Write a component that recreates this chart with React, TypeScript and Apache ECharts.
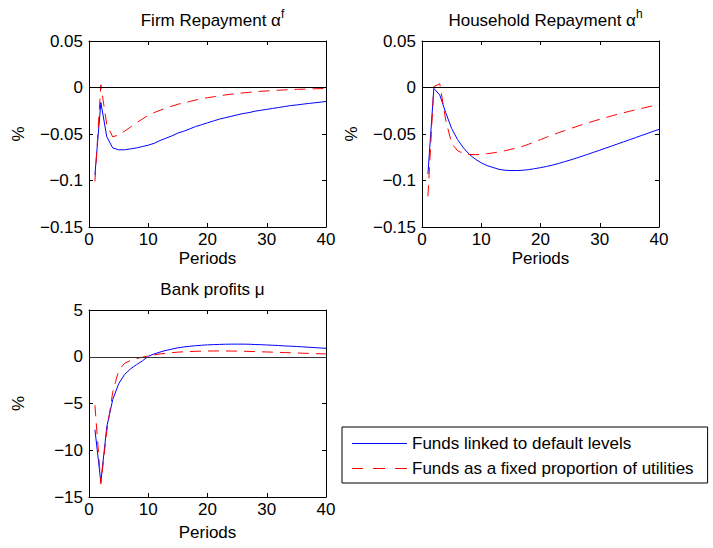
import React, { useEffect, useRef } from "react";
import * as echarts from "echarts";

// ---- data (periods 1..40) ----
const periods = [1, 2, 3, 4, 5, 6, 7, 8, 9, 10, 11, 12, 13, 14, 15, 16, 17, 18, 19, 20,
  21, 22, 23, 24, 25, 26, 27, 28, 29, 30, 31, 32, 33, 34, 35, 36, 37, 38, 39, 40];

const firmLinked = [-0.094, -0.016, -0.053, -0.065, -0.067, -0.067, -0.066, -0.065, -0.0635, -0.062,
  -0.06, -0.057, -0.0545, -0.052, -0.049, -0.047, -0.0445, -0.042, -0.04, -0.038,
  -0.036, -0.034, -0.0325, -0.031, -0.0295, -0.028, -0.027, -0.0255, -0.0245, -0.0235,
  -0.0225, -0.0215, -0.0205, -0.0195, -0.0188, -0.018, -0.0172, -0.0165, -0.0158, -0.015];
const firmFixed = [-0.101, 0.003, -0.04, -0.053, -0.051, -0.047, -0.0425, -0.038, -0.034, -0.03,
  -0.027, -0.0245, -0.022, -0.02, -0.018, -0.0165, -0.015, -0.0135, -0.012, -0.011,
  -0.01, -0.009, -0.008, -0.0072, -0.0065, -0.0058, -0.0052, -0.0046, -0.0041, -0.0037,
  -0.0033, -0.0029, -0.0026, -0.0023, -0.002, -0.0018, -0.0016, -0.0014, -0.0012, -0.001];

const householdLinked = [-0.093, -0.001, -0.008, -0.027, -0.044, -0.056, -0.065, -0.072, -0.077, -0.081,
  -0.084, -0.086, -0.088, -0.089, -0.0893, -0.0893, -0.089, -0.0883, -0.0873, -0.0862,
  -0.0849, -0.0835, -0.0818, -0.0799, -0.078, -0.076, -0.0739, -0.0718, -0.0696, -0.0674,
  -0.0652, -0.063, -0.0607, -0.0585, -0.0562, -0.054, -0.0517, -0.0495, -0.0472, -0.045];
const householdFixed = [-0.117, 0.001, 0.004, -0.035, -0.06, -0.068, -0.071, -0.072, -0.0722, -0.0718,
  -0.0712, -0.0703, -0.0692, -0.068, -0.0665, -0.065, -0.0632, -0.061, -0.0585, -0.056,
  -0.0535, -0.051, -0.0487, -0.0465, -0.0443, -0.0422, -0.04, -0.038, -0.0361, -0.0342,
  -0.0323, -0.0305, -0.0288, -0.0272, -0.0256, -0.0241, -0.0226, -0.0211, -0.0196, -0.018];

const bankLinked = [-7.8, -13.4, -7.5, -4.6, -2.9, -1.9, -1.3, -0.85, -0.45, 0.05,
  0.3, 0.5, 0.68, 0.82, 0.95, 1.05, 1.12, 1.18, 1.23, 1.27,
  1.3, 1.32, 1.34, 1.35, 1.35, 1.35, 1.34, 1.31, 1.29, 1.26,
  1.23, 1.2, 1.16, 1.13, 1.1, 1.06, 1.02, 0.98, 0.94, 0.9];
const bankFixed = [-5.2, -13.6, -8.0, -3.8, -1.5, -0.7, -0.4, -0.2, -0.05, 0.1,
  0.2, 0.3, 0.37, 0.44, 0.49, 0.53, 0.56, 0.58, 0.6, 0.61,
  0.62, 0.62, 0.62, 0.61, 0.6, 0.59, 0.57, 0.55, 0.53, 0.51,
  0.49, 0.47, 0.45, 0.43, 0.41, 0.38, 0.36, 0.34, 0.32, 0.3];

const xTicks = { min: 0, max: 40, interval: 10 };
const repayTicks = { min: -0.15, max: 0.05, interval: 0.05 };
const bankTicks = { min: -15, max: 5, interval: 5 };

const NAME_LINKED = "Funds linked to default levels";
const NAME_FIXED = "Funds as a fixed proportion of utilities";

const panels = [
  { title: "Firm Repayment α", sup: "f", linked: firmLinked, fixed: firmFixed, y: repayTicks },
  { title: "Household Repayment α", sup: "h", linked: householdLinked, fixed: householdFixed, y: repayTicks },
  { title: "Bank profits μ", sup: "", linked: bankLinked, fixed: bankFixed, y: bankTicks },
];

const FONT = "'Liberation Sans', Arial, Helvetica, sans-serif";
const FS = 17;
const BLUE = "#0000ff";
const RED = "#ff0000";
const DASH = [11, 7];
const ICON_SOLID = "path://M0,0h55v1h-55z";
const ICON_DASHED = "path://M0,0h11v1h-11zM21,0h12v1h-12zM43,0h12v1h-12z";

const fmt = (v: number) => {
  const r = Math.round(v * 1000) / 1000;
  return String(r).replace("-", "\u2212");
};

export default function App() {
  const ref = useRef<HTMLDivElement>(null);
  useEffect(() => {
    if (!ref.current) return;
    const chart = echarts.init(ref.current, undefined, { renderer: "svg" });
    const grids = [
      { left: 89, top: 41, width: 237, height: 186 },
      { left: 422, top: 41, width: 237, height: 186 },
      { left: 89, top: 310, width: 237, height: 187 },
    ];
    const nameGaps = [23, 23, 27];
    const xAxis: any[] = [];
    const yAxis: any[] = [];
    const series: any[] = [];
    const title: any[] = [];
    const lineAxis = { show: true, lineStyle: { color: "#000", width: 1 } };
    panels.forEach((p, g) => {
      xAxis.push({
        type: "value", gridIndex: g, position: "bottom", ...xTicks,
        axisLine: { ...lineAxis, onZero: false },
        axisTick: { show: true, inside: true, length: 4, lineStyle: { color: "#000" } },
        axisLabel: { color: "#000", fontSize: FS, fontFamily: FONT, margin: 4 },
        splitLine: { show: false },
        name: "Periods", nameLocation: "middle", nameGap: nameGaps[g],
        nameTextStyle: { color: "#000", fontSize: FS, fontFamily: FONT },
      });
      xAxis.push({
        type: "value", gridIndex: g, position: "top", ...xTicks,
        axisLine: { ...lineAxis, onZero: false },
        axisTick: { show: true, inside: true, length: 4, lineStyle: { color: "#000" } },
        axisLabel: { show: false },
        splitLine: { show: false },
      });
      yAxis.push({
        type: "value", gridIndex: g, position: "left", ...p.y,
        axisLine: { ...lineAxis, onZero: false },
        axisTick: { show: true, inside: true, length: 4, lineStyle: { color: "#000" } },
        axisLabel: { color: "#000", fontSize: FS, fontFamily: FONT, margin: 6, formatter: fmt },
        splitLine: { show: false },
        name: "%", nameLocation: "middle", nameGap: 62, nameRotate: 90,
        nameTextStyle: { color: "#000", fontSize: FS, fontFamily: FONT },
      });
      yAxis.push({
        type: "value", gridIndex: g, position: "right", ...p.y,
        axisLine: { ...lineAxis, onZero: false },
        axisTick: { show: true, inside: true, length: 4, lineStyle: { color: "#000" } },
        axisLabel: { show: false },
        splitLine: { show: false },
      });
      series.push({
        type: "line", name: NAME_LINKED, xAxisIndex: 2 * g, yAxisIndex: 2 * g,
        data: periods.map((t, i) => [t, p.linked[i]]),
        symbol: "none", smooth: false,
        lineStyle: { color: BLUE, width: 1 }, itemStyle: { color: BLUE },
        markLine: {
          silent: true, symbol: "none", label: { show: false },
          lineStyle: { color: g === 2 ? "#333" : "#000", width: 1, type: "solid" },
          data: [{ yAxis: 0 }],
        },
        z: 3,
      });
      series.push({
        type: "line", name: NAME_FIXED, xAxisIndex: 2 * g, yAxisIndex: 2 * g,
        data: periods.map((t, i) => [t, p.fixed[i]]),
        symbol: "none", smooth: false,
        lineStyle: { color: RED, width: 1, type: DASH }, itemStyle: { color: RED },
        z: 4,
      });
      const cx = grids[g].left + grids[g].width / 2;
      title.push({
        text: p.sup ? `{m|${p.title}}{s|${p.sup}}` : `{m|${p.title}}`,
        left: cx, top: grids[g].top - 38, textAlign: "center",
        textStyle: {
          fontSize: FS, fontFamily: FONT, color: "#000", fontWeight: "normal",
          rich: {
            m: { fontSize: FS, fontFamily: FONT, color: "#000", lineHeight: 24 },
            s: { fontSize: 12, fontFamily: FONT, color: "#000", verticalAlign: "top", lineHeight: 12 },
          },
        },
      });
    });
    chart.setOption({
      animation: false,
      backgroundColor: "#fff",
      title,
      grid: grids,
      xAxis,
      yAxis,
      series,
      legend: {
        orient: "vertical", left: 342, top: 427,
        data: [
          { name: NAME_LINKED, icon: ICON_SOLID, itemStyle: { color: BLUE, borderWidth: 0 } },
          { name: NAME_FIXED, icon: ICON_DASHED, itemStyle: { color: RED, borderWidth: 0 } },
        ],
        borderColor: "#000", borderWidth: 1, borderRadius: 0,
        padding: [8, 14, 6, 10], itemWidth: 55, itemHeight: 1, itemGap: 8,
        selectedMode: false, backgroundColor: "#fff",
        textStyle: { fontSize: FS, fontFamily: FONT, color: "#000" },
      },
    });
    return () => chart.dispose();
  }, []);
  return (
    <div
      ref={ref}
      style={{ position: "absolute", left: 0, top: 0, width: 713, height: 548 }}
    />
  );
}
